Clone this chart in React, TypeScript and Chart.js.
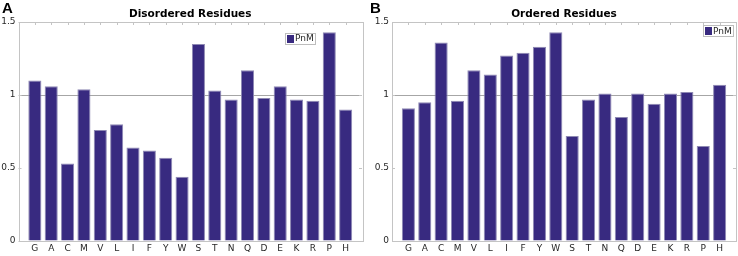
import React, { useEffect, useRef } from 'react';
import { Chart, registerables } from 'chart.js';

Chart.register(...registerables);

const residues = ['G', 'A', 'C', 'M', 'V', 'L', 'I', 'F', 'Y', 'W', 'S', 'T', 'N', 'Q', 'D', 'E', 'K', 'R', 'P', 'H'];
const disordered = [1.10, 1.06, 0.53, 1.04, 0.76, 0.80, 0.64, 0.62, 0.57, 0.44, 1.35, 1.03, 0.97, 1.17, 0.98, 1.06, 0.97, 0.96, 1.43, 0.90];
const ordered = [0.91, 0.95, 1.36, 0.96, 1.17, 1.14, 1.27, 1.29, 1.33, 1.43, 0.72, 0.97, 1.01, 0.85, 1.01, 0.94, 1.01, 1.02, 0.65, 1.07];
const yTicks = [0, 0.5, 1, 1.5];
const seriesName = 'PnM';

const FONT = '"DejaVu Sans", sans-serif';
const BAR = '#382a80';
const FRAME = '#c4c4c4';

const decorPlugin = {
  id: 'decor',
  afterDatasetsDraw(chart: any, _args: any, opts: any) {
    const { ctx, chartArea: ca, scales } = chart;
    const x = scales.x;
    const y = scales.y;
    ctx.save();
    // frame
    ctx.strokeStyle = FRAME;
    ctx.lineWidth = 1;
    ctx.strokeRect(Math.round(ca.left) + 0.5, Math.round(ca.top) + 0.5, Math.round(ca.right - ca.left), Math.round(ca.bottom - ca.top));
    // top inward ticks
    ctx.beginPath();
    for (let i = 1; i <= residues.length; i++) {
      const px = Math.round(x.getPixelForValue(i)) + 0.5;
      ctx.moveTo(px, ca.top);
      ctx.lineTo(px, ca.top + 3);
    }
    // right/left inward y ticks
    for (const v of yTicks) {
      const py = Math.round(y.getPixelForValue(v)) + 0.5;
      ctx.moveTo(ca.right, py);
      ctx.lineTo(ca.right - 3, py);
      ctx.moveTo(ca.left, py);
      ctx.lineTo(ca.left + 3, py);
    }
    ctx.stroke();

    // legend
    const label = chart.data.datasets[0].label;
    ctx.font = `9px ${FONT}`;
    const tw = ctx.measureText(label).width;
    const bw = tw + 11;
    const bh = 11;
    const bx = opts.legendAnchor === 'right' ? ca.right - opts.legendDx - bw : ca.left + opts.legendDx;
    const by = ca.top + opts.legendDy;
    ctx.fillStyle = '#ffffff';
    ctx.fillRect(bx, by, bw, bh);
    ctx.strokeStyle = '#bdbdbd';
    ctx.strokeRect(Math.round(bx) + 0.5, Math.round(by) + 0.5, Math.round(bw), bh);
    ctx.fillStyle = BAR;
    ctx.fillRect(Math.round(bx) + 2, Math.round(by) + 2, 7, 8);
    ctx.fillStyle = '#262626';
    ctx.textBaseline = 'middle';
    ctx.textAlign = 'left';
    ctx.fillText(label, Math.round(bx) + 10, by + bh / 2 + 1);

    // title
    ctx.fillStyle = '#000000';
    ctx.font = `bold 10.5px ${FONT}`;
    ctx.textAlign = 'center';
    ctx.textBaseline = 'middle';
    ctx.fillText(opts.title, (ca.left + ca.right) / 2, 14);

    // panel letter
    ctx.font = 'bold 15px "Liberation Sans", Arial, sans-serif';
    ctx.textAlign = 'left';
    ctx.textBaseline = 'top';
    ctx.fillText(opts.letter, opts.letterX, 1);
    ctx.restore();
  },
};

type PanelProps = {
  values: number[];
  title: string;
  letter: string;
  left: number;
  padLeft: number;
  padRight: number;
  yWidth: number;
  letterX: number;
  legendAnchor: 'left' | 'right';
  legendDx: number;
  legendDy: number;
};

function Panel(p: PanelProps) {
  const ref = useRef<HTMLCanvasElement | null>(null);
  useEffect(() => {
    if (!ref.current) return;
    const chart = new Chart(ref.current, {
      type: 'bar',
      data: {
        datasets: [
          {
            label: seriesName,
            data: p.values.map((v, i) => ({ x: i + 1, y: v })),
            backgroundColor: BAR,
            borderColor: '#8e89b3',
            borderWidth: 1,
            barPercentage: 0.8,
            categoryPercentage: 1,
          },
        ],
      },
      options: {
        responsive: false,
        animation: false,
        devicePixelRatio: 1,
        layout: { padding: { top: 22, left: p.padLeft, right: p.padRight, bottom: 0 } },
        plugins: {
          legend: { display: false },
          tooltip: { enabled: false },
          decor: {
            title: p.title,
            letter: p.letter,
            letterX: p.letterX,
            legendAnchor: p.legendAnchor,
            legendDx: p.legendDx,
            legendDy: p.legendDy,
          },
        } as any,
        scales: {
          x: {
            type: 'linear',
            min: 0,
            max: residues.length + 1,
            offset: false,
            grid: { display: false, drawTicks: false, offset: false },
            border: { display: false },
            afterBuildTicks: (s: any) => {
              s.ticks = residues.map((_r, i) => ({ value: i + 1 }));
            },
            afterFit: (s: any) => {
              s.height = 15;
            },
            ticks: {
              autoSkip: false,
              maxRotation: 0,
              padding: 2,
              color: '#262626',
              font: { family: FONT, size: 9 },
              callback: (v: any) => residues[Math.round(v) - 1] ?? '',
            },
          },
          y: {
            type: 'linear',
            min: 0,
            max: 1.5,
            grid: {
              drawTicks: false,
              color: (c: any) => (c.tick && c.tick.value === 1 ? '#a6a6a6' : 'rgba(0,0,0,0)'),
            },
            border: { display: false },
            afterBuildTicks: (s: any) => {
              s.ticks = yTicks.map((v) => ({ value: v }));
            },
            afterFit: (s: any) => {
              s.width = p.yWidth;
            },
            ticks: {
              padding: 3,
              color: '#262626',
              font: { family: FONT, size: 9 },
              callback: (v: any) => String(v),
            },
          },
        },
      },
      plugins: [decorPlugin],
    } as any);
    return () => chart.destroy();
  }, []);
  return (
    <canvas
      ref={ref}
      width={369}
      height={256}
      style={{ position: 'absolute', left: p.left, top: 0, width: 369, height: 256 }}
    />
  );
}

export default function App() {
  return (
    <div style={{ position: 'absolute', left: 0, top: 0, width: 738, height: 256, background: '#ffffff', overflow: 'hidden' }}>
      <Panel
        values={disordered}
        title="Disordered Residues"
        letter="A"
        left={0}
        padLeft={0}
        padRight={7}
        yWidth={18.5}
        letterX={2}
        legendAnchor="left"
        legendDx={266.5}
        legendDy={10.5}
      />
      <Panel
        values={ordered}
        title="Ordered Residues"
        letter="B"
        left={369}
        padLeft={4.5}
        padRight={2}
        yWidth={18.5}
        letterX={1}
        legendAnchor="right"
        legendDx={3}
        legendDy={3}
      />
    </div>
  );
}
